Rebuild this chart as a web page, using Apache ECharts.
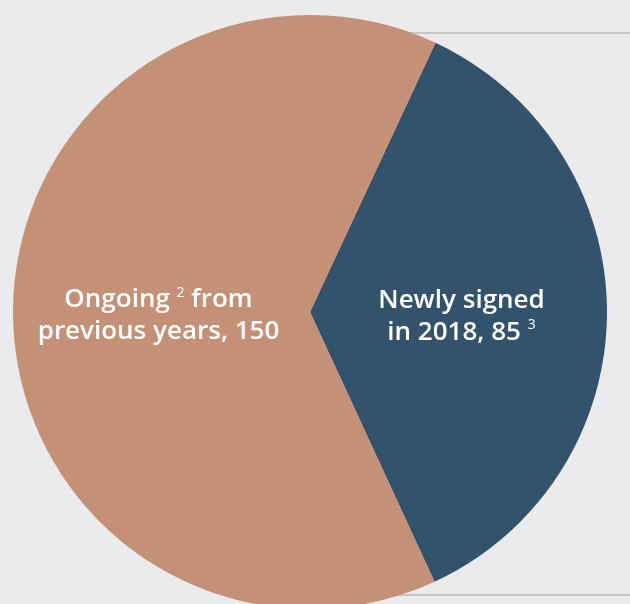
<!DOCTYPE html>
<html>
<head>
<meta charset="utf-8">
<script src="https://cdn.jsdelivr.net/npm/echarts@6/dist/echarts.min.js"></script>
<style>
  html, body { margin: 0; padding: 0; background: #ebebed; }
  #chart { width: 630px; height: 604px; }
</style>
</head>
<body>
<div id="chart"></div>
<script>
// data
var categories = ['Newly signed', 'Ongoing from previous years'];
var values = [85, 150];
var colors = ['#32536b', '#c59176'];

// label pieces: first line, footnote, second line
var labelParts = [
    { line1: 'Newly signed', line2: 'in 2018, ', note: '3', notePos: 'end' },
    { line1: 'Ongoing ', line2: 'previous years, ', note: '2', notePos: 'mid', line1b: ' from' }
];

var myChart = echarts.init(document.getElementById('chart'));

function labelText(params) {
    var p = labelParts[params.dataIndex];
    if (p.notePos === 'end') {
        return '{t|' + p.line1 + '}\n{t|' + p.line2 + params.value + ' }{sup|' + p.note + '}';
    }
    return '{t|' + p.line1 + '}{sup|' + p.note + '}{t|' + p.line1b + '}\n{t|' + p.line2 + params.value + '}';
}

var options = {
    backgroundColor: '#ebebed',
    animation: false,
    graphic: [
        {
            type: 'line', z: -1,
            shape: { x1: 300, y1: 33, x2: 630, y2: 33 },
            style: { stroke: '#c6c6c6', lineWidth: 2 }
        },
        {
            type: 'line', z: -1,
            shape: { x1: 300, y1: 595, x2: 630, y2: 595 },
            style: { stroke: '#c6c6c6', lineWidth: 2 }
        }
    ],
    series: [
        {
            type: 'pie',
            center: [310, 312],
            radius: [0, 297],
            startAngle: 65,
            clockwise: true,
            silent: true,
            data: categories.map(function (c, i) {
                return { name: c, value: values[i], itemStyle: { color: colors[i] } };
            }),
            label: {
                show: true,
                position: 'inner',
                formatter: labelText,
                align: 'center',
                padding: [8, 0, 0, 0],
                rich: {
                    t: {
                        color: '#ffffff',
                        fontFamily: 'Open Sans',
                        fontWeight: 600,
                        fontSize: 26,
                        lineHeight: 32
                    },
                    sup: {
                        color: '#ffffff',
                        fontFamily: 'Open Sans',
                        fontSize: 14,
                        lineHeight: 32,
                        verticalAlign: 'top',
                        padding: [2, 0, 0, 0]
                    }
                }
            },
            labelLine: { show: false }
        }
    ]
};

myChart.setOption(options);
</script>
</body>
</html>
